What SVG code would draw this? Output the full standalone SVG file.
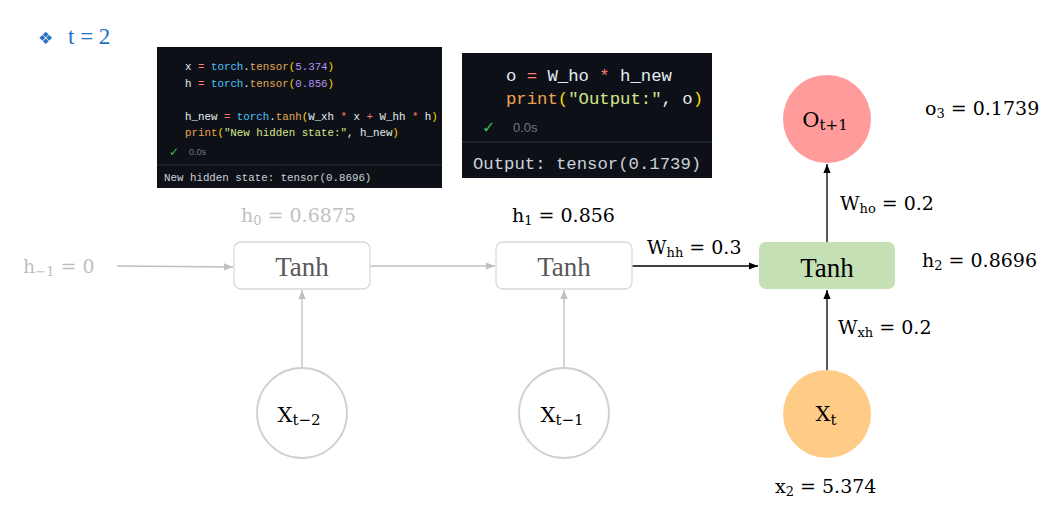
<svg xmlns="http://www.w3.org/2000/svg" width="1063" height="514" viewBox="0 0 1063 514">
<style>
.lbl{font-family:"DejaVu Serif","Liberation Serif",serif;font-size:19px;fill:#000}
.clbl{font-size:21px}
.g{fill:#bfbfbf}
.sub{font-size:13px}
.csub{font-size:15px}
.tanh{font-family:"Liberation Serif",serif;font-size:27px;text-anchor:middle}
.mono1{font-family:"Liberation Mono","DejaVu Sans Mono",monospace;font-size:10.8px;fill:#e6edf3}
.mono2{font-family:"Liberation Mono","DejaVu Sans Mono",monospace;font-size:17.3px;fill:#e6edf3}
.kw{fill:#4fc1ff}.fn{fill:#e5a45c}.pa{fill:#ffd700}.nu{fill:#b392f0}.op{fill:#ff7b72}.pr{fill:#f0a050}.st{fill:#d4e68a}.out{fill:#c9d1d9}
.gbox{fill:#fff;stroke:#d9d9d9;stroke-width:1.3}
.gcirc{fill:#fff;stroke:#d0d0d0;stroke-width:1.8}
.ga{stroke:#bfbfbf;stroke-width:1.3;fill:none}
.ba{stroke:#000;stroke-width:1.3;fill:none}
</style>
<defs>
<marker id="ag" viewBox="0 0 10 10" refX="10" refY="5" markerWidth="9" markerHeight="9" markerUnits="userSpaceOnUse" orient="auto"><path d="M0,1 L10,5 L0,9 z" fill="#bfbfbf"/></marker>
<marker id="ab" viewBox="0 0 10 10" refX="10" refY="5" markerWidth="9" markerHeight="9" markerUnits="userSpaceOnUse" orient="auto"><path d="M0,1 L10,5 L0,9 z" fill="#000"/></marker>
</defs>
<rect width="1063" height="514" fill="#fff"/>

<g id="title">
<text x="38" y="44" font-family="DejaVu Sans,sans-serif" font-size="17" fill="#1f72c4">❖</text>
<text x="68" y="44" font-family="Liberation Serif,serif" font-size="23" fill="#1f72c4">t = 2</text>
</g>

<g id="code1">
<rect x="157" y="47" width="285" height="141" fill="#0d1117"/>
<line x1="157" y1="165" x2="442" y2="165" stroke="#262c33" stroke-width="1"/>
<text class="mono1" x="185" y="70">x <tspan class="op">=</tspan> <tspan class="kw">torch</tspan>.<tspan class="fn">tensor</tspan><tspan class="pa">(</tspan><tspan class="nu">5.374</tspan><tspan class="pa">)</tspan></text>
<text class="mono1" x="185" y="87">h <tspan class="op">=</tspan> <tspan class="kw">torch</tspan>.<tspan class="fn">tensor</tspan><tspan class="pa">(</tspan><tspan class="nu">0.856</tspan><tspan class="pa">)</tspan></text>
<text class="mono1" x="185" y="120">h_new <tspan class="op">=</tspan> <tspan class="kw">torch</tspan>.<tspan class="fn">tanh</tspan><tspan class="pa">(</tspan>W_xh <tspan class="op">*</tspan> x <tspan class="op">+</tspan> W_hh <tspan class="op">*</tspan> h<tspan class="pa">)</tspan></text>
<text class="mono1" x="185" y="136"><tspan class="pr">print</tspan><tspan class="pa">(</tspan><tspan class="st">"New hidden state:"</tspan>, h_new<tspan class="pa">)</tspan></text>
<text x="169" y="156" font-family="DejaVu Sans,sans-serif" font-size="12" fill="#3fb950">✓</text>
<text x="189" y="155" font-family="Liberation Sans,sans-serif" font-size="9" fill="#6e7681">0.0s</text>
<text class="mono1 out" x="164" y="181">New hidden state: tensor(0.8696)</text>
</g>

<g id="code2">
<rect x="462" y="53" width="250" height="125" fill="#0d1117"/>
<line x1="462" y1="142" x2="712" y2="142" stroke="#30363d" stroke-width="1"/>
<text class="mono2" x="506" y="81">o <tspan class="op">=</tspan> W_ho <tspan class="op">*</tspan> h_new</text>
<text class="mono2" x="506" y="104"><tspan class="pr">print</tspan><tspan class="pa">(</tspan><tspan class="st">"Output:"</tspan>, o<tspan class="pa">)</tspan></text>
<text x="482" y="133" font-family="DejaVu Sans,sans-serif" font-size="16" fill="#3fb950">✓</text>
<text x="513" y="132" font-family="Liberation Sans,sans-serif" font-size="13" fill="#6e7681">0.0s</text>
<text class="mono2 out" x="473" y="169">Output: tensor(0.1739)</text>
</g>

<g id="connectors">
<line class="ga" x1="117" y1="266" x2="233" y2="267" marker-end="url(#ag)"/>
<line class="ga" x1="370" y1="266" x2="495" y2="266" marker-end="url(#ag)"/>
<line class="ba" x1="632" y1="266" x2="758" y2="266" marker-end="url(#ab)"/>
<line class="ga" x1="302" y1="368" x2="302" y2="290" marker-end="url(#ag)"/>
<line class="ga" x1="564" y1="368" x2="564" y2="290" marker-end="url(#ag)"/>
<line class="ba" x1="827" y1="370" x2="827" y2="290" marker-end="url(#ab)"/>
<line class="ba" x1="827" y1="242" x2="827" y2="164" marker-end="url(#ab)"/>
</g>

<g id="tanh0">
<rect class="gbox" x="234" y="242" width="136" height="47" rx="7"/>
<text class="tanh" x="302" y="276" fill="#595959">Tanh</text>
</g>
<g id="tanh1">
<rect class="gbox" x="496" y="242" width="136" height="47" rx="7"/>
<text class="tanh" x="564" y="276" fill="#595959">Tanh</text>
</g>
<g id="tanh2">
<rect x="759" y="242" width="136" height="47" rx="7" fill="#c5e0b4"/>
<text class="tanh" x="827" y="277" fill="#000">Tanh</text>
</g>

<g id="out">
<circle cx="827" cy="119" r="44" fill="#ff9b9b"/>
<text class="lbl clbl" x="825" y="127" text-anchor="middle">O<tspan class="csub" dy="3">t+1</tspan></text>
</g>
<g id="xt2">
<circle class="gcirc" cx="302" cy="413" r="45"/>
<text class="lbl clbl" x="299" y="422" text-anchor="middle">X<tspan class="csub" dy="3">t−2</tspan></text>
</g>
<g id="xt1">
<circle class="gcirc" cx="564" cy="413" r="45"/>
<text class="lbl clbl" x="562" y="422" text-anchor="middle">X<tspan class="csub" dy="3">t−1</tspan></text>
</g>
<g id="xt">
<circle cx="827" cy="414" r="44" fill="#ffcc88"/>
<text class="lbl clbl" x="826" y="421" text-anchor="middle">X<tspan class="csub" dy="4">t</tspan></text>
</g>

<g id="labels">
<text class="lbl g" x="23" y="273">h<tspan class="sub" dy="3">−1</tspan><tspan dy="-3"> = 0</tspan></text>
<text class="lbl g" x="241" y="222">h<tspan class="sub" dy="3">0</tspan><tspan dy="-3"> = 0.6875</tspan></text>
<text class="lbl" x="512" y="222">h<tspan class="sub" dy="3">1</tspan><tspan dy="-3"> = 0.856</tspan></text>
<text class="lbl" x="647" y="254">W<tspan class="sub" dy="3">hh</tspan><tspan dy="-3"> = 0.3</tspan></text>
<text class="lbl" x="840" y="210">W<tspan class="sub" dy="3">ho</tspan><tspan dy="-3"> = 0.2</tspan></text>
<text class="lbl" x="922" y="267">h<tspan class="sub" dy="3">2</tspan><tspan dy="-3"> = 0.8696</tspan></text>
<text class="lbl" x="925" y="115">o<tspan class="sub" dy="3">3</tspan><tspan dy="-3"> = 0.1739</tspan></text>
<text class="lbl" x="838" y="334">W<tspan class="sub" dy="3">xh</tspan><tspan dy="-3"> = 0.2</tspan></text>
<text class="lbl" x="775" y="493">x<tspan class="sub" dy="3">2</tspan><tspan dy="-3"> = 5.374</tspan></text>
</g>
</svg>
